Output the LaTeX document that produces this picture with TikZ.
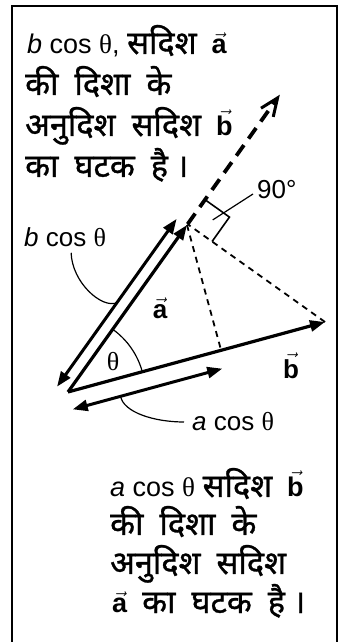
\documentclass[tikz,border=0pt]{standalone}
\usepackage{amsmath}
\usepackage{fontspec}
\setmainfont{Liberation Sans}
\newfontfamily\hindi[Script=Devanagari, Scale=1.2, FakeBold=1, WordSpace=1.9]{Noto Sans}
\newfontfamily\grk{Liberation Serif}
\usetikzlibrary{arrows.meta,calc,angles}
\newcommand{\vbf}[1]{\ensuremath{\vec{\text{\bfseries #1}}}}
\newcommand{\thet}{{\grk θ}}
\newcommand{\danda}{\hspace{8pt}।}

\begin{document}
\begin{tikzpicture}[x=1pt, y=1pt,
  para/.style={anchor=base west, inner sep=0pt, font=\fontsize{27}{41}\selectfont},
  lbl/.style={inner sep=0pt, font=\fontsize{26}{28}\selectfont},
  vec/.style={-{Triangle[length=15pt, width=11pt]}, line width=3.2pt},
  dbl/.style={{Triangle[length=15pt, width=11pt]}-{Triangle[length=15pt, width=11pt]}, line width=3pt},
  thindash/.style={line width=1.8pt, dash pattern=on 6pt off 5pt},
  lead/.style={line width=1.2pt}
]
  \useasboundingbox (0,0) rectangle (344,642);
  % frame, open at the foot
  \draw[line width=1.6pt] (12,0) -- (12,636) -- (337,636) -- (337,0);

  % text above
  \node[para] (top1) at (27,588) {\textit{b} cos \thet, {\hindi सदिश}~~\vbf{a}};
  \node[para] (top2) at (25,547) {\hindi की दिशा के};
  \node[para] (top3) at (25,506) {{\hindi अनुदिश सदिश}~~\vbf{b}};
  \node[para] (top4) at (25,465) {\hindi का घटक है\danda};

  % vectors
  \coordinate (O) at (68,250);
  \coordinate (A) at (187,417);
  \coordinate (B) at (325,320);
  \coordinate (F) at ($(O)!(B)!(A)$);
  \coordinate (P) at ($(O)!(A)!(B)$);
  \coordinate (T) at ($(O)!1.78!(A)$);

  \draw[line width=3.8pt, dash pattern=on 13pt off 8pt,
    -{Straight Barb[length=18pt, width=15pt, line width=3pt]}] (F) -- (T);
  \draw[thindash] (B) -- (F);
  \draw[thindash] (A) -- (P);
  \draw[vec] (O) -- (A);
  \draw[vec] (O) -- (B);

  % right angle
  \coordinate (rc) at ($(F)!30pt!(T)!30pt!90:(F)$);
  \draw[line width=1.6pt] ($(F)!30pt!(T)$) -- (rc) -- ($(F)!30pt!(B)$);

  % components
  \coordinate (bcS) at ($(O)!-2pt!(A)!12pt!90:(A)$);
  \coordinate (bcE) at ($(O)!204pt!(A)!12pt!-90:(O)$);
  \coordinate (acS) at ($(O)!18pt!-90:(B)$);
  \coordinate (acE) at ($(O)!155pt!(B)!18pt!90:(O)$);
  \draw[dbl] (bcS) -- (bcE);
  \draw[dbl] (acS) -- (acE);
  \coordinate (bcL) at ($(bcS)!0.5!(bcE)$);
  \coordinate (acL) at ($(acS)!0.32!(acE)$);

  \pic[draw, line width=1.2pt, angle radius=77pt] {angle=B--O--A};

  % labels
  \node[lbl, anchor=west] (bl) at (24,405) {\textit{b} cos \thet};
  \node[lbl, anchor=west] (al) at (192,220) {\textit{a} cos \thet};
  \node[lbl, anchor=west] (rl) at (257,452) {90°};
  \node[lbl] (avl) at (160,334) {\vbf{a}};
  \node[lbl] (bvl) at (291,276) {\vbf{b}};
  \node[lbl] (th) at (113,280) {\thet};

  \draw[lead] ([shift={(6,-6)}]bl.south) .. controls +(1,-30) and +(-15,-6) .. (bcL);
  \draw[lead] (acL) .. controls +(3,-16) and +(-30,0) .. ([xshift=-8pt]al.west);
  \draw[lead] ($(F)!0.6!(rc)$) -- ([xshift=-4pt, yshift=-4pt]rl.west);

  % text below
  \node[para] (bot1) at (110,145) {\textit{a} cos \thet~{\hindi सदिश}~~\vbf{b}};
  \node[para] (bot2) at (110,107) {\hindi की दिशा के};
  \node[para] (bot3) at (110,68) {\hindi अनुदिश सदिश};
  \node[para] (bot4) at (112,29) {\vbf{a}~~{\hindi का घटक है\danda}};
\end{tikzpicture}
\end{document}
